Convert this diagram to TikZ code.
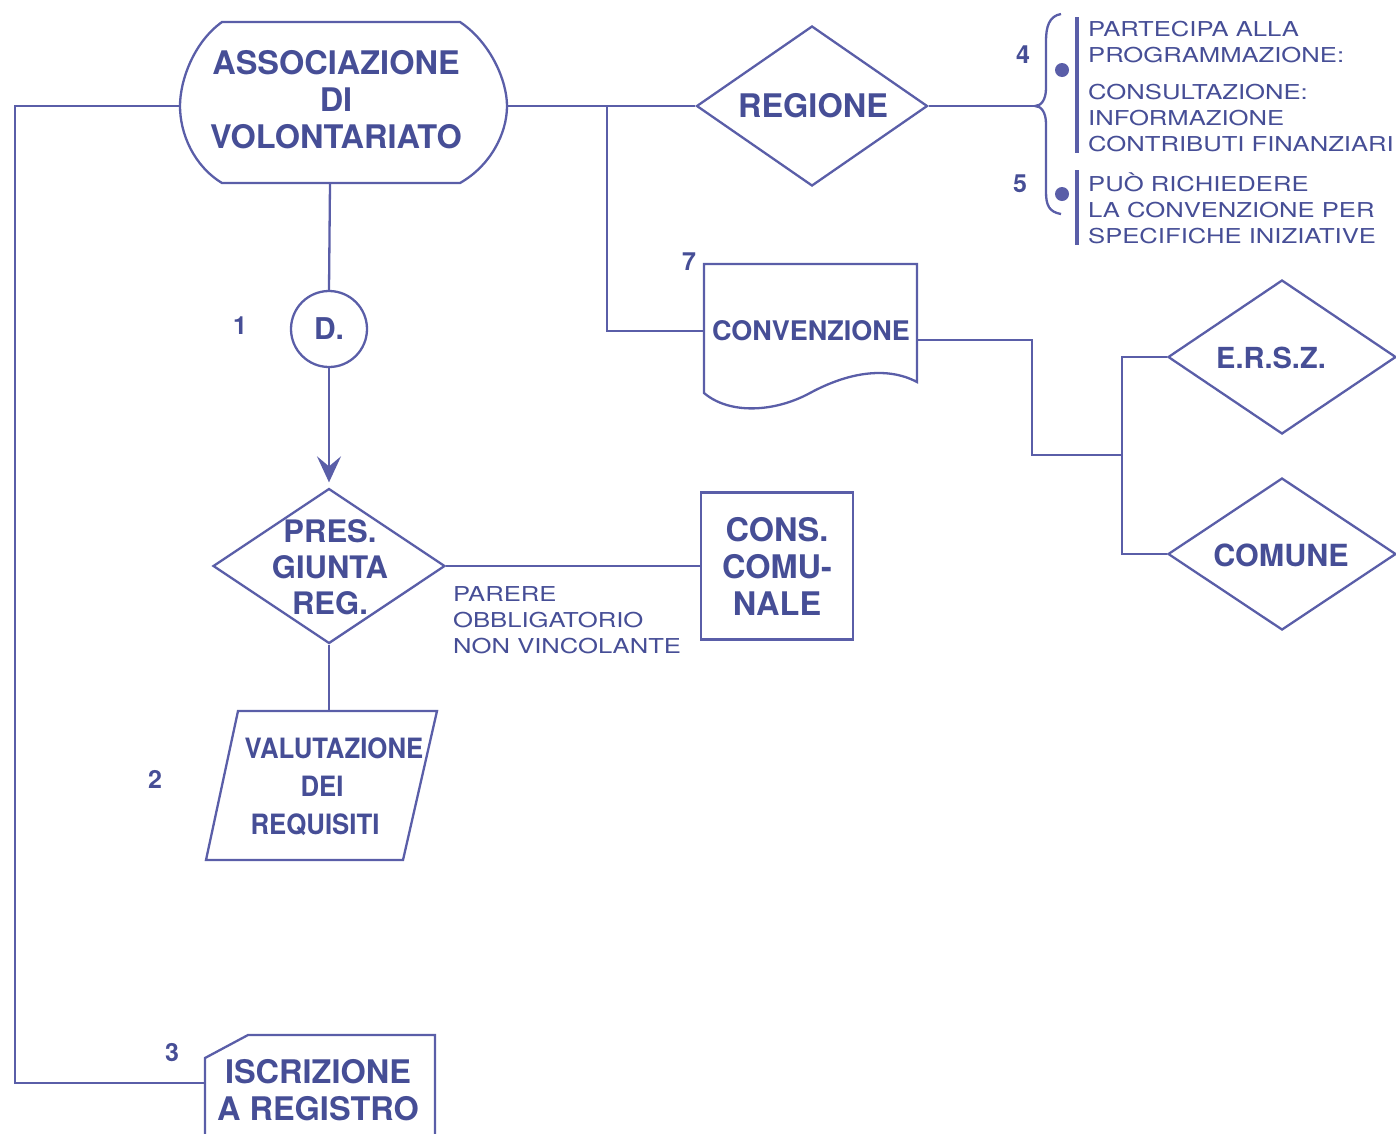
\documentclass[tikz,border=0pt]{standalone}
\usepackage{fontspec}
\setmainfont{TeX Gyre Heros}
\newfontfamily\notefont[FakeStretch=1.25]{TeX Gyre Heros}
\newfontfamily\narrowfont[FakeStretch=0.92]{TeX Gyre Heros}
\usetikzlibrary{shapes.geometric,arrows.meta}
\definecolor{inkline}{HTML}{5A5EA8}
\definecolor{inktext}{HTML}{464E96}
\tikzset{
  conn/.style={draw=inkline, line width=2.3pt},
  shapeline/.style={draw=inkline, line width=2.3pt},
  bigtxt/.style={text=inktext, font=\bfseries\fontsize{32.5}{37}\selectfont, align=center, inner sep=0pt},
  midtxt/.style={text=inktext, font=\bfseries\fontsize{27}{33}\selectfont, align=center, inner sep=0pt},
  valtxt/.style={text=inktext, font=\narrowfont\bfseries\fontsize{28}{38.5}\selectfont, inner sep=0pt},
  notetxt/.style={text=inktext, font=\notefont\fontsize{20.5}{26}\selectfont, align=left, inner sep=0pt},
  numtxt/.style={text=inktext, font=\bfseries\fontsize{25}{28}\selectfont, inner sep=0pt},
  diam/.style={diamond, shapeline, inner sep=0pt}
}
\begin{document}
\begin{tikzpicture}[x=1pt,y=-1pt]
\useasboundingbox (0,0) rectangle (1396,1133);

% terminal: association
\draw[shapeline] (222,22) -- (460,22)
  .. controls (490,42) and (507,80) .. (507,106)
  .. controls (507,134) and (490,166) .. (460,183) -- (222,183)
  .. controls (194,166) and (180,134) .. (180,106)
  .. controls (180,80) and (194,42) .. (222,22) -- cycle;
\coordinate (assocW) at (180,106);
\coordinate (assocE) at (507,106);
\coordinate (assocS) at (330,183);
\node[bigtxt] (assoc) at (336,100) {ASSOCIAZIONE\\DI\\VOLONTARIATO};

% region decision
\node[diam, minimum width=231pt, minimum height=160pt] (regione) at (812,106) {};
\node[bigtxt] (regioneTxt) at (813,106) {REGIONE};
\draw[conn] (assocE) -- (regione.west);

% brace with the notes
\coordinate (braceTip) at (1035,106);
\draw[conn] (regione.east) -- (braceTip);
\draw[shapeline] (1061,14) .. controls (1049,16) and (1046,27) .. (1046,41) -- (1046,88)
  .. controls (1046,100) and (1041,106) .. (braceTip)
  .. controls (1041,106) and (1046,112) .. (1046,124) -- (1046,192)
  .. controls (1046,205) and (1049,212) .. (1061,214);
\fill[inkline] (1062,70) circle (7pt);
\fill[inkline] (1062,194) circle (7pt);
\draw[inkline, line width=3.8pt] (1077,17) -- (1077,153);
\draw[inkline, line width=3.8pt] (1077,170) -- (1077,245);
\node[numtxt] (n4) at (1023,55) {4};
\node[numtxt] (n5) at (1020,184) {5};
\node[notetxt, anchor=west] (note4a) at (1088,42) {PARTECIPA ALLA\\PROGRAMMAZIONE:};
\node[notetxt, anchor=west] (note4b) at (1088,118) {CONSULTAZIONE:\\INFORMAZIONE\\CONTRIBUTI FINANZIARI};
\node[notetxt, anchor=west] (note5) at (1088,208) {PUÒ RICHIEDERE\\LA CONVENZIONE PER\\SPECIFICHE INIZIATIVE};

% agreement document
\draw[shapeline] (704,393) -- (704,264) -- (917,264) -- (917,382)
  .. controls (885,365) and (845,374) .. (810,393)
  .. controls (775,412) and (730,415) .. (704,393) -- cycle;
\coordinate (convW) at (704,331);
\coordinate (convE) at (917,340);
\node[midtxt] (conv) at (811,331) {CONVENZIONE};
\node[numtxt] (n7) at (689,262) {7};
\coordinate (split) at (607,106);
\draw[conn] (split) |- (convW);

% bodies reached by the agreement
\node[diam, minimum width=228pt, minimum height=154pt] (ersz) at (1282,357) {};
\node[bigtxt, font=\bfseries\fontsize{29}{34}\selectfont] (erszTxt) at (1271,358) {E.R.S.Z.};
\node[diam, minimum width=228pt, minimum height=152pt] (comune) at (1282,554) {};
\node[bigtxt, font=\bfseries\fontsize{30.5}{34}\selectfont] (comuneTxt) at (1281,555) {COMUNE};
\coordinate (bend) at (1032,455);
\coordinate (fork) at (1122,455);
\draw[conn] (convE) -| (bend) -- (fork);
\draw[conn] (ersz.west) -| (fork) |- (comune.west);

% application path
\node[circle, shapeline, minimum size=76pt, inner sep=0pt, text=inktext, font=\bfseries\fontsize{30}{34}\selectfont] (dnode) at (329,329) {D.};
\node[numtxt] (n1) at (240,326) {1};
\draw[conn] (assocS) -- (dnode.north);

\node[diam, minimum width=232pt, minimum height=155pt] (pres) at (329,566) {};
\node[bigtxt, font=\bfseries\fontsize{31}{36}\selectfont] (presTxt) at (330,567) {PRES.\\GIUNTA\\REG.};
\draw[conn, -{Stealth[length=26pt, width=24pt, inset=10pt]}, shorten >=5pt] (dnode.south) -- (pres.north);

\node[rectangle, shapeline, minimum width=152pt, minimum height=147pt, bigtxt] (cons) at (777,566) {CONS.\\COMU-\\NALE};
\draw[conn] (pres.east) -- (cons.west);
\node[notetxt, anchor=west] (parere) at (453,620) {PARERE\\OBBLIGATORIO\\NON VINCOLANTE};

% evaluation: each line follows the slant of the box
\draw[shapeline] (238,711) -- (437,711) -- (403,860) -- (206,860) -- cycle;
\coordinate (valN) at (329,711);
\draw[conn] (pres.south) -- (valN);
\node[valtxt] (val1) at (334,748) {VALUTAZIONE};
\node[valtxt] (val2) at (322,786) {DEI};
\node[valtxt] (val3) at (315,825) {REQUISITI};
\node[numtxt] (n2) at (155,779) {2};

% registration
\draw[shapeline] (205,1140) -- (205,1058) -- (248,1035) -- (435,1035) -- (435,1140);
\coordinate (iscrW) at (205,1083);
\coordinate (loop) at (15,1083);
\node[bigtxt] (iscr) at (318,1090) {ISCRIZIONE\\A REGISTRO};
\node[numtxt] (n3) at (172,1053) {3};
\draw[conn] (assocW) -| (loop) -- (iscrW);
\end{tikzpicture}
\end{document}
